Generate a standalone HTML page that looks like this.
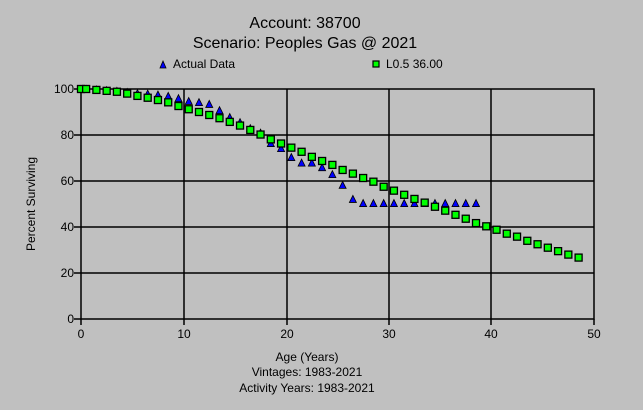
<!DOCTYPE html>
<html><head><meta charset="utf-8"><style>
html,body{margin:0;padding:0;background:#c0c0c0;}
svg{display:block;font-family:"Liberation Sans",Arial,sans-serif;}
</style></head><body>
<svg id="s" width="643" height="410" viewBox="0 0 643 410" xmlns="http://www.w3.org/2000/svg">
<rect width="643" height="410" fill="#c0c0c0"/>
<text x="305" y="28" font-size="16" text-anchor="middle">Account: 38700</text>
<text x="305" y="48" font-size="16" text-anchor="middle">Scenario: Peoples Gas @ 2021</text>
<polygon points="160,68 163,61 166,68" fill="#0000ff" stroke="#000" stroke-width="0.8"/>
<text x="173" y="68" font-size="12">Actual Data</text>
<rect x="373" y="61" width="6" height="6" fill="#00ff00" stroke="#000" stroke-width="1.2"/>
<text x="386" y="68" font-size="12">L0.5 36.00</text>
<g stroke="#000" stroke-width="1.5" fill="none">
<rect x="81" y="89" width="513" height="230"/>
<line x1="184" y1="89" x2="184" y2="319"/><line x1="287" y1="89" x2="287" y2="319"/>
<line x1="389" y1="89" x2="389" y2="319"/><line x1="491" y1="89" x2="491" y2="319"/>
<line x1="81" y1="135" x2="594" y2="135"/><line x1="81" y1="181" x2="594" y2="181"/>
<line x1="81" y1="227" x2="594" y2="227"/><line x1="81" y1="273" x2="594" y2="273"/>
<line x1="74" y1="89" x2="81" y2="89"/><line x1="74" y1="135" x2="81" y2="135"/><line x1="74" y1="181" x2="81" y2="181"/><line x1="74" y1="227" x2="81" y2="227"/><line x1="74" y1="273" x2="81" y2="273"/><line x1="74" y1="319" x2="81" y2="319"/>
<line x1="81" y1="319" x2="81" y2="325"/><line x1="184" y1="319" x2="184" y2="325"/><line x1="287" y1="319" x2="287" y2="325"/><line x1="389" y1="319" x2="389" y2="325"/><line x1="491" y1="319" x2="491" y2="325"/><line x1="594" y1="319" x2="594" y2="325"/>
</g>
<g font-size="12" text-anchor="end">
<text x="74" y="93">100</text><text x="74" y="139">80</text><text x="74" y="185">60</text><text x="74" y="231">40</text><text x="74" y="277">20</text><text x="74" y="323">0</text>
</g>
<g font-size="12" text-anchor="middle">
<text x="81" y="338">0</text><text x="184" y="338">10</text><text x="287" y="338">20</text><text x="389" y="338">30</text><text x="491" y="338">40</text><text x="594" y="338">50</text>
<text x="307" y="361">Age (Years)</text>
<text x="307" y="376">Vintages: 1983-2021</text>
<text x="307" y="392">Activity Years: 1983-2021</text>
</g>
<text x="35" y="204" font-size="12" text-anchor="middle" transform="rotate(-90 35 204)">Percent Surviving</text>
<g id="tri"></g><g id="sq"></g>
</svg>
<script>
var ns="http://www.w3.org/2000/svg";
function X(a){return 81+a*10.26;}function Y(v){return 319-v*2.3;}
var act=[[0,100],[0.5,100],[1.5,99.8],[2.5,99.5],[3.5,99.2],[4.5,98.7],[5.5,98.2],[6.5,98],[7.5,97.6],[8.5,97],[9.5,96],[10.5,94.8],[11.5,94.3],[12.5,93.5],[13.5,90.8],[14.5,87.8],[15.5,85.6],[16.5,83],[17.5,81],[18.5,76.5],[19.5,74.3],[20.5,70.4],[21.5,68],[22.5,68],[23.5,66],[24.5,63],[25.5,58.3],[26.5,52.2]];
for(var a=27.5;a<=38.6;a++)act.push([a,50.4]);
var sq=[[0,100],[0.5,100],[1.5,99.6],[2.5,99.2],[3.5,98.8],[4.5,98],[5.5,97],[6.5,96.2],[7.5,95.2],[8.5,94.2],[9.5,92.6],[10.5,91.2],[11.5,90],[12.5,88.7],[13.5,87.3],[14.5,85.7],[15.5,84.1],[16.5,82.2],[17.5,80.2],[18.5,78.1],[19.5,76.3],[20.5,74.5],[21.5,72.7],[22.5,70.5],[23.5,68.7],[24.5,67],[25.5,64.8],[26.5,63.2],[27.5,61.3],[28.5,59.7],[29.5,57.5],[30.5,55.8],[31.5,54],[32.5,52.2],[33.5,50.6],[34.5,48.8],[35.5,47.1],[36.5,45.3],[37.5,43.6],[38.5,41.7],[39.5,40.3],[40.5,38.8],[41.5,37.1],[42.5,35.8],[43.5,34],[44.5,32.5],[45.5,31],[46.5,29.5],[47.5,28],[48.5,26.7]];
var g=document.getElementById("tri");
act.forEach(function(p){var x=X(p[0]),y=Y(p[1]);var t=document.createElementNS(ns,"polygon");
t.setAttribute("points",(x-3.5)+","+(y+3.5)+" "+x+","+(y-3.5)+" "+(x+3.5)+","+(y+3.5));
t.setAttribute("fill","#0000ff");t.setAttribute("stroke","#000");t.setAttribute("stroke-width","0.8");g.appendChild(t);});
var h=document.getElementById("sq");
sq.forEach(function(p){var x=X(p[0]),y=Y(p[1]);var r=document.createElementNS(ns,"rect");
r.setAttribute("x",x-3.5);r.setAttribute("y",y-3.5);r.setAttribute("width",7);r.setAttribute("height",7);
r.setAttribute("fill","#00ff00");r.setAttribute("stroke","#000");r.setAttribute("stroke-width","1.3");h.appendChild(r);});
</script>
</body></html>
